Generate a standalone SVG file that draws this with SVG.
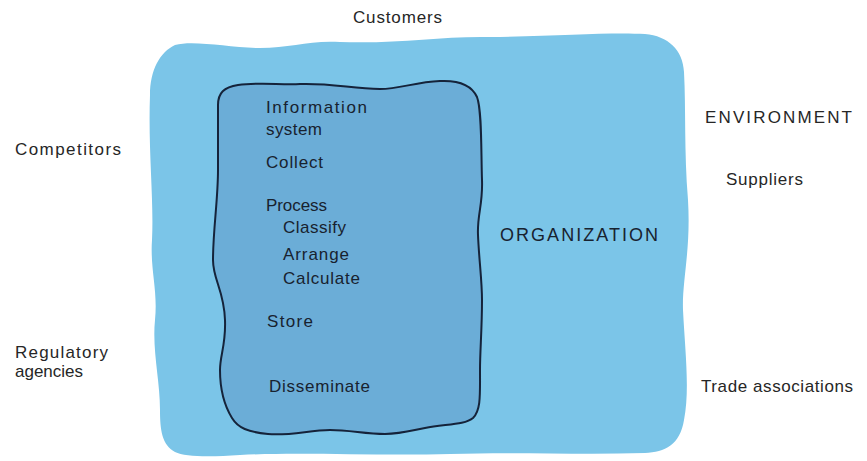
<svg xmlns="http://www.w3.org/2000/svg" width="867" height="461" viewBox="0 0 867 461">
  <style>
    text { font-family: "Liberation Sans", Arial, Helvetica, sans-serif; }
    .env { font-size: 17px; fill: #262626; }
    .sys { font-size: 17px; fill: #18222f; }
    .org-label { font-size: 18px; fill: #18222f; }
    .org { fill: #7bc5e8; }
    .infosys { fill: #6badd7; stroke: #15233a; stroke-width: 2; }
  </style>
  <rect width="867" height="461" fill="#ffffff"/>

  <!-- Organization: the wavy light-blue region -->
  <g id="organization">
    <path class="org" d="M 150 95 C 150 70, 160 52, 175 45 C 195 40, 230 48, 260 48 C 290 48, 310 40, 340 42 C 400 44, 440 36, 490 37 C 560 36, 610 32, 645 34 C 668 36, 683 50, 684 72 C 686 110, 684 150, 688 200 C 691 250, 682 280, 683 310 C 685 350, 690 390, 684 420 C 680 445, 665 452, 645 453 C 580 455, 520 452, 450 454 C 380 456, 300 452, 240 455 C 210 457, 185 457, 175 452 C 162 445, 160 430, 160 410 C 160 380, 152 350, 155 320 C 158 290, 150 270, 152 240 C 154 200, 148 150, 150 95 Z"/>
    <text class="org-label" x="500" y="241" textLength="158" lengthAdjust="spacing">ORGANIZATION</text>
  </g>

  <!-- Information system: outlined region inside the organization -->
  <g id="information-system">
    <path class="infosys" d="M 218 105 C 218 93, 224 87, 238 85 C 260 82, 280 85, 300 84 C 330 83, 350 88, 380 89 C 400 89, 415 82, 440 81 C 460 80, 472 86, 477 97 C 482 110, 481 150, 482 180 C 483 205, 477 215, 478 235 C 479 260, 482 280, 482 300 C 482 330, 480 350, 480 370 C 480 395, 481 410, 473 418 C 465 425, 445 424, 425 428 C 410 431, 400 434, 385 434 C 365 434, 350 430, 330 430 C 310 430, 290 436, 268 434 C 248 432, 238 428, 232 418 C 224 405, 220 390, 220 370 C 220 355, 226 345, 225 320 C 224 290, 213 280, 213 260 C 213 230, 218 200, 218 170 C 218 140, 218 120, 218 105 Z"/>
    <text class="sys" x="266" y="113" textLength="101" lengthAdjust="spacing">Information</text>
    <text class="sys" x="266" y="135" textLength="56" lengthAdjust="spacing">system</text>
    <text class="sys" x="266" y="168" textLength="57" lengthAdjust="spacing">Collect</text>
    <text class="sys" x="266" y="211" textLength="61" lengthAdjust="spacing">Process</text>
    <text class="sys" x="283" y="233" textLength="63" lengthAdjust="spacing">Classify</text>
    <text class="sys" x="283" y="260" textLength="66" lengthAdjust="spacing">Arrange</text>
    <text class="sys" x="283" y="284" textLength="77" lengthAdjust="spacing">Calculate</text>
    <text class="sys" x="267" y="327" textLength="46" lengthAdjust="spacing">Store</text>
    <text class="sys" x="269" y="392" textLength="101" lengthAdjust="spacing">Disseminate</text>
  </g>

  <!-- Environment: parties surrounding the organization -->
  <g id="environment">
    <text class="env" x="705" y="123" textLength="147" lengthAdjust="spacing">ENVIRONMENT</text>
  </g>
  <g id="customers">
    <text class="env" x="353" y="23" textLength="89" lengthAdjust="spacing">Customers</text>
  </g>
  <g id="competitors">
    <text class="env" x="15" y="155" textLength="106" lengthAdjust="spacing">Competitors</text>
  </g>
  <g id="suppliers">
    <text class="env" x="726" y="185" textLength="77" lengthAdjust="spacing">Suppliers</text>
  </g>
  <g id="regulatory-agencies">
    <text class="env" x="15" y="358" textLength="93" lengthAdjust="spacing">Regulatory</text>
    <text class="env" x="15" y="377" textLength="68" lengthAdjust="spacing">agencies</text>
  </g>
  <g id="trade-associations">
    <text class="env" x="701" y="392" textLength="152" lengthAdjust="spacing">Trade associations</text>
  </g>

  <!-- no connectors: the regions nest -->
  <g id="connectors"/>
</svg>
